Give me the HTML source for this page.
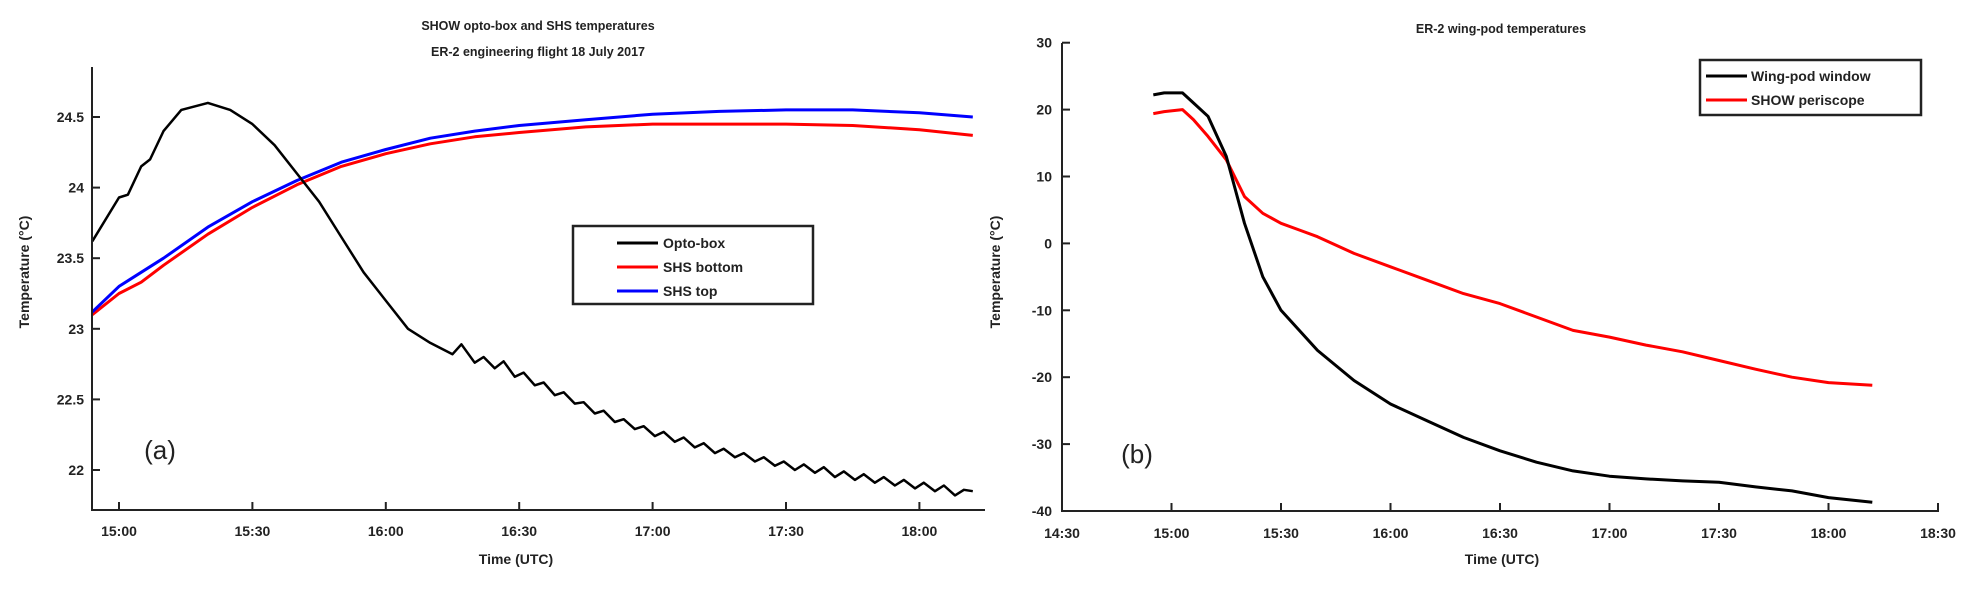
<!DOCTYPE html>
<html><head><meta charset="utf-8"><style>
body{margin:0;background:#fff;}
svg text{font-family:"Liberation Sans",sans-serif;fill:#222;}
</style></head><body>
<svg id="s" width="1982" height="588" xmlns="http://www.w3.org/2000/svg"></svg>
<script>
// Panel (a) data: minutes after 15:00
const aOptoT=[-6,0,2,5,7,10,14,20,25,30,35,40,45,50,55,60,65,70,75,77,80,82,84.5,86.5,89,91,93.5,95.5,98,100,102.5,104.5,107,109,111.5,113.5,116,118,120.5,122.5,125,127,129.5,131.5,134,136,138.5,140.5,143,145,147.5,149.5,152,154,156.5,158.5,161,163,165.5,167.5,170,172,174.5,176.5,179,181,183.5,185.5,188,190,192];
const aOptoV=[23.62,23.93,23.95,24.15,24.2,24.4,24.55,24.6,24.55,24.45,24.3,24.1,23.9,23.65,23.4,23.2,23.0,22.9,22.82,22.89,22.76,22.80,22.72,22.77,22.66,22.69,22.60,22.62,22.53,22.55,22.47,22.48,22.40,22.42,22.34,22.36,22.29,22.31,22.24,22.27,22.20,22.23,22.16,22.19,22.12,22.15,22.09,22.12,22.06,22.09,22.03,22.06,22.00,22.04,21.98,22.02,21.95,21.99,21.93,21.97,21.91,21.95,21.89,21.93,21.87,21.91,21.85,21.89,21.82,21.86,21.85];
const aShsT=[-6,0,5,10,20,30,40,50,60,70,80,90,105,120,135,150,165,180,192];
const aTopV=[23.12,23.3,23.4,23.5,23.72,23.9,24.05,24.18,24.27,24.35,24.4,24.44,24.48,24.52,24.54,24.55,24.55,24.53,24.5];
const aBotV=[23.1,23.25,23.33,23.45,23.67,23.86,24.02,24.15,24.24,24.31,24.36,24.39,24.43,24.45,24.45,24.45,24.44,24.41,24.37];
const aXTicks=["15:00","15:30","16:00","16:30","17:00","17:30","18:00"];
const aYTicks=[22,22.5,23,23.5,24,24.5];
// Panel (b) data: minutes after 14:30
const bT=[25,28,33,36,40,45,50,55,60,65,70,80,90,100,110,120,130,140,150,160,170,180,190,200,210,222];
const bWinV=[22.2,22.5,22.5,21,19,13,3,-5,-10,-13,-16,-20.5,-24,-26.5,-29,-31,-32.7,-34,-34.8,-35.2,-35.5,-35.7,-36.4,-37,-38,-38.7];
const bPerV=[19.4,19.7,20,18.5,16,12.5,7,4.5,3,2,1,-1.5,-3.5,-5.5,-7.5,-9,-11,-13,-14,-15.2,-16.2,-17.5,-18.8,-20,-20.8,-21.2];
const bXTicks=["14:30","15:00","15:30","16:00","16:30","17:00","17:30","18:00","18:30"];
const bYTicks=[-40,-30,-20,-10,0,10,20,30];

const S=document.getElementById('s');
const NS="http://www.w3.org/2000/svg";
function mk(tag,at,parent){const e=document.createElementNS(NS,tag);for(const k in at)e.setAttribute(k,at[k]);(parent||S).appendChild(e);return e;}
function txt(x,y,s,size,anchor,weight,parent){const t=mk('text',{x:x,y:y,'font-size':size,'text-anchor':anchor||'middle','font-weight':weight||'bold'},parent);t.textContent=s;return t;}

// Panel a scales
const ax=t=>119+t/30*133.4, ay=v=>470-(v-22)/0.5*70.6;
const ga=mk('g',{});


function line(g,T,V,fx,fy,col,name,w){const p=mk('path',{d:T.map((t,i)=>(i?'L':'M')+fx(t).toFixed(1)+','+fy(V[i]).toFixed(1)).join(''),fill:'none',stroke:col,'stroke-width':w||3,'stroke-linejoin':'round'},g);}
line(ga,aShsT,aBotV,ax,ay,'#f00','shs-bottom-line');
line(ga,aShsT,aTopV,ax,ay,'#00f','shs-top-line');
line(ga,aOptoT,aOptoV,ax,ay,'#000','opto-box-line',2.5);
mk('path',{d:'M92,67V510H985',fill:'none',stroke:'#222','stroke-width':2},ga);
aXTicks.forEach((s,i)=>{const x=ax(i*30);mk('line',{x1:x,y1:510,x2:x,y2:502,stroke:'#222','stroke-width':2},ga);const t=txt(x,536,s,14,'middle','bold',ga);});
aYTicks.forEach(v=>{const y=ay(v);mk('line',{x1:92,y1:y,x2:100,y2:y,stroke:'#222','stroke-width':2},ga);const t=txt(84,y+5,String(v),14,'end','bold',ga);});
let t=txt(538,30,'SHOW  opto-box and SHS temperatures',12.5,'middle','bold',ga);
t=txt(538,56,'ER-2 engineering flight 18 July 2017',12.5,'middle','bold',ga);
t=txt(516,564,'Time (UTC)',14,'middle','bold',ga);
t=txt(0,0,'Temperature (°C)',14,'middle','bold',ga);t.setAttribute('transform','translate(29,272) rotate(-90)');
t=txt(160,459,'(a)',26,'middle','normal',ga);
const la=mk('g',{},ga);


mk('rect',{x:573,y:226,width:240,height:78,fill:'#fff',stroke:'#222','stroke-width':2.5},la);
[['Opto-box','#000'],['SHS bottom','#f00'],['SHS top','#00f']].forEach((e,i)=>{const y=243+i*24;mk('line',{x1:617,y1:y,x2:658,y2:y,stroke:e[1],'stroke-width':3},la);const tt=txt(663,y+5,e[0],14,'start','bold',la);});

// Panel b scales
const bx=t=>1062+t/30*109.5, by=v=>511-(v+40)/10*66.9;
const gb=mk('g',{});


line(gb,bT,bPerV,bx,by,'#f00','show-periscope-line');
line(gb,bT,bWinV,bx,by,'#000','wing-pod-window-line');
mk('path',{d:'M1062,43V511H1938V504',fill:'none',stroke:'#222','stroke-width':2},gb);
bXTicks.forEach((s,i)=>{const x=bx(i*30);mk('line',{x1:x,y1:511,x2:x,y2:503,stroke:'#222','stroke-width':2},gb);const tt=txt(x,538,s,14,'middle','bold',gb);});
bYTicks.forEach(v=>{const y=by(v);mk('line',{x1:1062,y1:y,x2:1070,y2:y,stroke:'#222','stroke-width':2},gb);const tt=txt(1052,y+5,String(v),14,'end','bold',gb);});
t=txt(1501,33,'ER-2 wing-pod temperatures',12.5,'middle','bold',gb);
t=txt(1502,564,'Time (UTC)',14,'middle','bold',gb);
t=txt(0,0,'Temperature (°C)',14,'middle','bold',gb);t.setAttribute('transform','translate(1000,272) rotate(-90)');
t=txt(1137,463,'(b)',26,'middle','normal',gb);
const lb=mk('g',{},gb);


mk('rect',{x:1700,y:60,width:221,height:55,fill:'#fff',stroke:'#222','stroke-width':2.5},lb);
[['Wing-pod window','#000'],['SHOW periscope','#f00']].forEach((e,i)=>{const y=76+i*24;mk('line',{x1:1706,y1:y,x2:1747,y2:y,stroke:e[1],'stroke-width':3},lb);const tt=txt(1751,y+5,e[0],14,'start','bold',lb);});
</script>
</body></html>
